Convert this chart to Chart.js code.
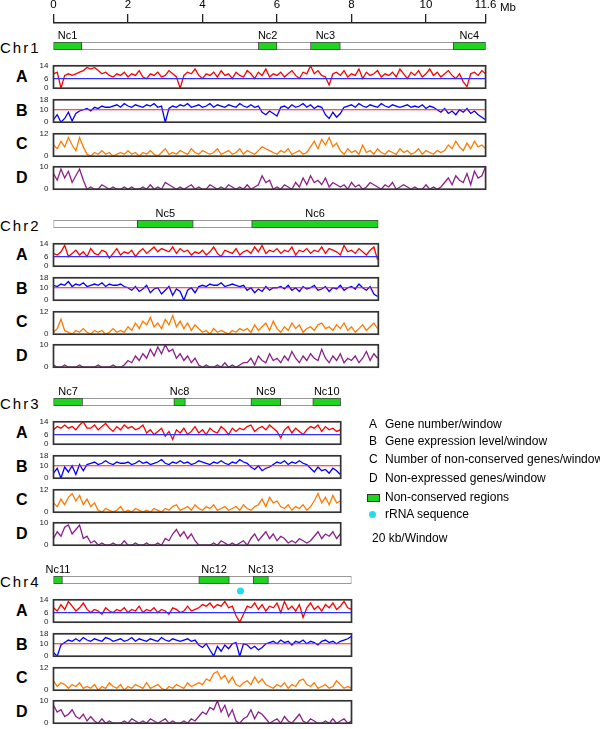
<!DOCTYPE html>
<html>
<head>
<meta charset="utf-8">
<script src="https://cdn.jsdelivr.net/npm/chart.js@4.4.0/dist/chart.umd.min.js"></script>
<style>
  body { margin: 0; background: #fff; font-family: "Liberation Sans", Arial, sans-serif; }
  #wrap { position: relative; width: 600px; height: 729px; overflow: hidden; }
  canvas { position: absolute; left: 0; }
  .lbl { position: absolute; white-space: nowrap; color: #000; transform: translateY(-50%); }
</style>
</head>
<body>
<div id="wrap"></div>
<script>
// window size of every track value, in Mb
const winMb = 0.1;

const axisTicks = [0, 2, 4, 6, 8, 10, 11.6];
const chrNames = ['Chr1', 'Chr2', 'Chr3', 'Chr4'];
const chrLen = [11.6, 8.72, 7.71, 8.0];

const ncNames = [['Nc1', 'Nc2', 'Nc3', 'Nc4'], ['Nc5', 'Nc6'], ['Nc7', 'Nc8', 'Nc9', 'Nc10'], ['Nc11', 'Nc12', 'Nc13']];
const ncRegions = [
  [[0, 0.76], [5.5, 6.0], [6.9, 7.7], [10.73, 11.6]],
  [[2.25, 3.75], [5.32, 8.72]],
  [[0, 0.78], [3.23, 3.54], [5.3, 6.1], [6.96, 7.71]],
  [[0, 0.24], [3.9, 4.72], [5.36, 5.77]]
];
// rRNA sequence position (Chr4)
const rrnaChr = 3;
const rrnaPos = [5.02];

const trackNames = ['A', 'B', 'C', 'D'];
const trackMax = [14, 18, 12, 10];
const trackTicks = [[0, 6, 14], [0, 10, 18], [0, 12], [0, 10]];
const trackRef = [6, 10, null, null];

const legendLetters = ['A', 'B', 'C', 'D'];
const legendText = ['Gene number/window', 'Gene expression level/window',
  'Number of non-conserved genes/window', 'Non-expressed genes/window'];

// Chr1
const chr1A = [9,10,0,8,9,8,9,10,11,13, 12,13,11,9,10,8,7,9,8,10, 7,9,8,11,7,6,9,8,10,7,
  8,11,9,7,0,8,10,9,12,8, 6,9,8,10,7,11,8,9,6,10, 8,7,11,9,6,10,8,12,7,9,
  8,10,7,9,11,8,6,10,9,14, 9,11,8,7,2,9,10,8,11,7, 9,8,12,6,10,8,9,11,7,9,
  8,10,7,12,9,6,10,8,11,7, 9,12,8,10,7,9,11,8,6,9, 4,1,9,10,8,11,9];
const chr1B = [2,6,0,3,8,1,7,9, 10,11,9,12,11,13,12,12,
  13,14,12,15,13,12,14,13,12,14,13,15,12,13,0,
  11,13,12,14,13,15,12,13,14,12,13,15,12,14,13,12,14,13,12,15,13,12,14,12,13,
  8,6,9,7,5, 12,13,11,14,12,13,15,12,14,11,13,12, 6,3,8,4,7,
  12,13,14,12,15,13,12,14,13,12,15,13,12,14,13,12,13,14,12,13,12,14,11,13,12,
  10,8,11,7,9,6,10,8,11,7,9,6,4,2];
const chr1C = [6,4,8,5,10,6,3,10,5, 1,0,2,1,3,1,2,0,1,2,1,3, 1,2,0,2,1,3,1,0,2,4,1,2,
  1,3,2,1,4,2,1,3,2,1,2,4, 1,2,3,1,2,4,1,3,2,1, 3,5,4,3, 2,1,3,2,4,1,2,3,1,2,
  5,8,4,9,6,10,5,7, 3,1,4,2,3,1,6,2,3,1,4,2,1,3,2,1,4,2,3,1,2,4,1,3,2,1,3,2,
  3,6,4,8,5,3,7,4,8,5,6,4];
const chr1D = [7,4,9,5,8,3,6,9,4, 0,1,0,0,2,1,0,1,0,0,1,0, 1,0,0,1,0,2,0,1,0,3,2,1,
  0,1,0,1,2,0,1,0,0,2,1,0, 1,0,2,1,0,1,0,2,0,1, 2,6,3,4, 0,1,0,2,1,0,
  3,1,5,2,6,3,4,2,5,1,3,2, 1,2,0,3,1,2,0,1,3,2,1,0,2,1,3,0,1,2,1,
  0,1,0,0,2,0,1,0,1, 3,5,2,6,4,3,7,2,8,5,6,10];

// Chr2
const chr2A = [8,7,9,13,6,8,10,7,9,6, 11,8,7,10,9,5,8,11,7,9, 8,10,6,9,11,8,10,12,9,11,
  10,9,12,8,11,9,10,7,9,8, 10,7,9,12,8,6,10,9,8,11, 7,9,10,8,12,9,13,8,10,9,
  11,8,10,9,12,7,10,9,11,8, 10,9,12,8,11,10,9,7,13,9, 10,8,11,9,7,10,12,4];
const chr2B = [12,11,13,12,15,11,13,12,14,11,12,13,12,14,11,13,12,12,13,11,
  10,8,11,7,9,12,6,9,10,5,8,11,4,9,7,0,8,10,6,11,
  12,11,13,12,12,14,11,12,13,12,11,12, 8,10,6,9,7,11,8,10,
  10,11,9,12,8,10,7,11,9,10,12,8,9,11,7,10,9,12,8,10,11,9,13,10,8,11,5,3];
const chr2C = [1,3,8,2,1,0,2,1,3,1,0,2,1,2,0,1,3,1,2,1,
  4,2,6,3,7,5,9,4,6,3,8,5,10,4,7,3,6,2,5,3,
  1,2,0,3,1,2,1,0,2,1,3,2,
  3,1,5,2,4,6,2,7,3,1,4,2,6,3,5,1,3,4,2,5,6,3,4,2,5,3,6,2,4,1,3,5,2,4,6,3];
const chr2D = [1,0,0,1,0,0,0,1,0,0,0,0,1,0,0,0,1,0,0,1,
  3,2,5,3,6,4,8,5,9,6,10,7,8,4,6,3,5,2,4,1,
  0,1,0,0,1,0,2,0,1,0,1,2,
  2,4,1,5,3,2,6,3,4,2,5,3,7,4,2,5,3,6,4,3,8,4,2,5,3,6,2,4,3,5,2,4,7,3,6,4];

// Chr3
const chr3A = [9,11,10,12,10,11,9,12,14,10, 10,12,9,11,13,10,8,11,9,12,10,11,9,10,12,
  7,9,6,8,10,5,8,3,9,7,10,6,8,11,7,9,6,10,8,7,11,9,6,10,8,
  10,9,11,12,8,10,11,9,12,10, 8,4,9,11,7,10,8,6,9,11,10,12,8,11,9,10,8,9];
const chr3B = [4,8,0,9,5,10,3,11,6,
  11,12,13,11,12,14,12,11,13,12,12,13,11,12,14,12,13,11,12,13,15,12,11,13,12,14,12,13,11,12,14,13,12,11,13,12,14,12,11,13,12,15,13,12,
  9,7,10,6,8,9, 11,13,12,14,11,13,12,14,12,11, 8,5,9,6,7,4,8,6,3];
const chr3C = [5,3,7,4,8,10,6,9,4,7,3,5,
  1,0,2,1,0,1,3,0,1,0,2,1,0,1,0,2,1,0,
  2,1,3,4,1,2,3,1,4,2,1,3,2,4,1,2,3,1,2,3,1,4,2,1,3,
  4,7,3,8,5,6,3, 2,4,1,3,2,4,1,3, 6,10,5,8,4,9,5,6];
const chr3D = [3,6,4,8,9,5,7,9,3,4,1,2,
  0,1,0,0,1,0,0,2,0,0,1,0,0,1,0,0,1,0,
  3,2,5,7,4,6,3,5,2, 0,0,0,0, 1,0,2,1,0,1,0,1,2,0,
  3,5,2,4,6,3,5,2,4,3,1,2,1,3,2,1,2, 4,6,3,5,4,6,3,5];

// Chr4
const chr4A = [9,7,11,8,13,10,7,9,12,8,
  6,8,7,5,9,7,6,8,7,9,6,8,7,10,6,8,7,9,6,8,7,5,9,8,6,7,10,7,8,
  9,11,10,12,9,11,10,13,9,10, 4,0,5,
  10,9,12,8,11,7,10,9,12,6,13,8,10,7,11,3,9,12,8,10,7,11,9,12,8,10,13,9,8];
const chr4B = [3,0,9,11,
  13,12,14,12,15,13,12,14,13,12,15,14,12,13,14,12,13,15,12,14,13,12,14,13,12,15,13,12,14,13,12,13,14,12,13,
  9,7,10,5,0,8,4,9,6,10, 11,0,10, 9,6,8,5,7,10,
  11,12,10,13,11,12,9,12,11,13,10,12,11,9,12,13,11,12,10,12,13,14,16];
const chr4C = [5,2,4,3,1,3,2,4,1,2,
  1,3,0,2,1,4,2,1,3,0,2,1,3,2,1,4,1,2,3,1,0,2,1,3,2,1,4,2,3,
  4,3,6,5,9,10,6,8,4,7, 3,2,4, 5,3,7,4,6,3,
  2,1,3,2,4,1,3,2,5,6,3,2,4,1,2,3,1,2,5,3,1,2,1];
const chr4D = [8,5,6,3,4,6,3,2,4,1,
  3,1,0,2,0,1,0,0,0,1,0,2,1,0,1,0,2,1,0,1,2,0,1,0,0,1,0,2,1,
  3,5,4,7,6,10,5,8,3,6, 1,0,2, 3,6,2,5,4,2,
  0,1,2,0,3,1,0,2,4,1,0,2,1,0,0,1,0,2,0,1,2,0,1];

const trackData = [
  [chr1A, chr1B, chr1C, chr1D],
  [chr2A, chr2B, chr2C, chr2D],
  [chr3A, chr3B, chr3C, chr3D],
  [chr4A, chr4B, chr4C, chr4D]
];

// ---- layout / style ----
const X0 = 53.5;        // x pixel of 0 Mb
const PX = 37.25;       // pixels per Mb
const FONT = '"Liberation Sans", Arial, sans-serif';
const trackColor = ['#ff0000', '#0000ff', '#ff7a00', '#8c1f8c'];
const refColor = ['#3030ff', '#ff1a1a', null, null];
const green = '#1fd41f';
const cyan = '#22dcf0';

Chart.defaults.font.family = FONT;
Chart.defaults.animation = false;
Chart.defaults.events = [];

const wrap = document.getElementById('wrap');

function makeCanvas(top, h) {
  const c = document.createElement('canvas');
  c.width = 600;
  c.height = h;
  c.style.top = top + 'px';
  wrap.appendChild(c);
  return c.getContext('2d');
}

function addText(txt, left, y, css) {
  const d = document.createElement('div');
  d.className = 'lbl';
  d.textContent = txt;
  d.style.left = left + 'px';
  d.style.top = y + 'px';
  if (css) d.style.cssText += css;
  wrap.appendChild(d);
  return d;
}

function padRight(len) {
  return 600 - X0 - len * PX;
}

const boxPlugin = {
  id: 'box',
  afterDraw(chart, args, opts) {
    const { ctx, chartArea: a } = chart;
    ctx.save();
    ctx.strokeStyle = opts.color;
    ctx.lineWidth = opts.width;
    ctx.strokeRect(a.left, a.top, a.right - a.left, a.bottom - a.top);
    ctx.restore();
  }
};

const ncLabelPlugin = {
  id: 'nclabels',
  afterDatasetsDraw(chart) {
    const ctx = chart.ctx;
    ctx.save();
    ctx.font = '11px ' + FONT;
    ctx.fillStyle = '#000';
    ctx.textAlign = 'center';
    ctx.textBaseline = 'bottom';
    chart.data.datasets.forEach((ds, i) => {
      if (!ds.ncLabel) return;
      const el = chart.getDatasetMeta(i).data[0];
      ctx.fillText(ds.ncLabel, (el.x + el.base) / 2, el.y - el.height / 2 - 1);
    });
    ctx.restore();
  }
};

// ---- top Mb axis ----
new Chart(makeCanvas(0, 30), {
  type: 'scatter',
  data: { datasets: [{ data: [] }] },
  options: {
    responsive: false,
    layout: { padding: { left: X0, right: padRight(11.6), top: 0, bottom: 0 } },
    plugins: { legend: { display: false }, tooltip: { enabled: false } },
    scales: {
      x: {
        type: 'linear', position: 'top', min: 0, max: 11.6,
        afterBuildTicks: s => { s.ticks = axisTicks.map(v => ({ value: v })); },
        afterFit: s => { s.height = 23; },
        ticks: { autoSkip: false, maxRotation: 0, color: '#000', padding: 2, font: { size: 11.5 } },
        grid: { drawOnChartArea: false, tickLength: 9, color: '#222', lineWidth: 1.3 },
        border: { display: true, color: '#222', width: 1.5 }
      },
      y: { display: false }
    }
  }
});
addText('Mb', 500, 7, 'font-size:11.5px;');

// ---- chromosomes ----
chrNames.forEach((name, c) => {
  const len = chrLen[c];
  const chrTop = 42 + 178 * c;

  addText(name, 0, chrTop + 4.5, 'font-size:15px;letter-spacing:2px;');

  // chromosome bar with non-conserved regions
  const barSets = ncRegions[c].map((r, k) => ({
    data: [r], ncLabel: ncNames[c][k], backgroundColor: green, borderColor: '#444',
    borderWidth: 1, borderSkipped: false, grouped: false, barPercentage: 1, categoryPercentage: 1
  }));
  barSets.push({
    data: [[0, len]], backgroundColor: '#fff', borderColor: '#777', borderWidth: 1,
    borderSkipped: false, grouped: false, barPercentage: 1, categoryPercentage: 1
  });
  new Chart(makeCanvas(chrTop - 18, 30), {
    type: 'bar',
    data: { labels: [name], datasets: barSets },
    options: {
      indexAxis: 'y', responsive: false,
      layout: { padding: { left: X0, right: padRight(len), top: 18, bottom: 4 } },
      plugins: { legend: { display: false }, tooltip: { enabled: false } },
      scales: { x: { type: 'linear', min: 0, max: len, display: false }, y: { display: false } }
    },
    plugins: [ncLabelPlugin]
  });

  // rRNA marker
  if (c === rrnaChr) {
    new Chart(makeCanvas(chrTop + 6, 18), {
      type: 'scatter',
      data: { datasets: [{ data: rrnaPos.map(p => ({ x: p, y: 0 })), pointRadius: 3.5,
        pointStyle: 'circle', backgroundColor: cyan, borderColor: cyan, borderWidth: 0, clip: false }] },
      options: {
        responsive: false, maintainAspectRatio: false,
        layout: { padding: { left: X0, right: padRight(len), top: 1, bottom: 1 } },
        plugins: { legend: { display: false }, tooltip: { enabled: false } },
        scales: { x: { type: 'linear', min: 0, max: len, display: false },
                  y: { type: 'linear', min: -1, max: 1, display: false } }
      }
    });
  }

  // A-D tracks
  trackNames.forEach((tn, j) => {
    const top = chrTop + 20 + 33.8 * j;
    const h = 29.5;
    addText(tn, 16, top + h / 2, 'font-size:16px;font-weight:bold;');
    const datasets = [];
    if (trackRef[j] !== null) {
      datasets.push({ data: [{ x: 0, y: trackRef[j] }, { x: len, y: trackRef[j] }],
        borderColor: refColor[j], borderWidth: 1.2, pointRadius: 0 });
    }
    datasets.push({
      data: trackData[c][j].map((v, i) => ({ x: i * winMb, y: v })),
      borderColor: trackColor[j], borderWidth: 1.3, pointRadius: 0, tension: 0
    });
    new Chart(makeCanvas(top - 6, 42), {
      type: 'line',
      data: { datasets },
      options: {
        responsive: false,
        layout: { padding: { left: 0, right: padRight(len), top: 6, bottom: 42 - 6 - h } },
        plugins: { legend: { display: false }, tooltip: { enabled: false },
                   box: { color: '#333', width: 1.7 } },
        scales: {
          x: { type: 'linear', min: 0, max: len, display: false },
          y: {
            min: 0, max: trackMax[j],
            afterBuildTicks: s => { s.ticks = trackTicks[j].map(v => ({ value: v })); },
            afterFit: s => { s.width = X0; },
            grid: { display: false, drawTicks: false },
            border: { display: false },
            ticks: { color: '#222', padding: 5, font: { size: 8 } }
          }
        }
      },
      plugins: [boxPlugin]
    });
  });
});

// ---- legend ----
const legY = [424, 441, 459, 478];
legendLetters.forEach((l, i) => {
  addText(l, 369, legY[i], 'font-size:12px;');
  addText(legendText[i], 385, legY[i], 'font-size:12px;');
});
const gBox = document.createElement('div');
gBox.style.cssText = 'position:absolute;left:367px;top:494px;width:11px;height:6px;background:' + green + ';border:1px solid #333;';
wrap.appendChild(gBox);
addText('Non-conserved regions', 385, 497, 'font-size:12px;');
const dot = document.createElement('div');
dot.style.cssText = 'position:absolute;left:369px;top:510.5px;width:7px;height:7px;border-radius:50%;background:' + cyan + ';';
wrap.appendChild(dot);
addText('rRNA sequence', 385, 514, 'font-size:12px;');
addText('20 kb/Window', 372, 538, 'font-size:12px;');
</script>
</body>
</html>
